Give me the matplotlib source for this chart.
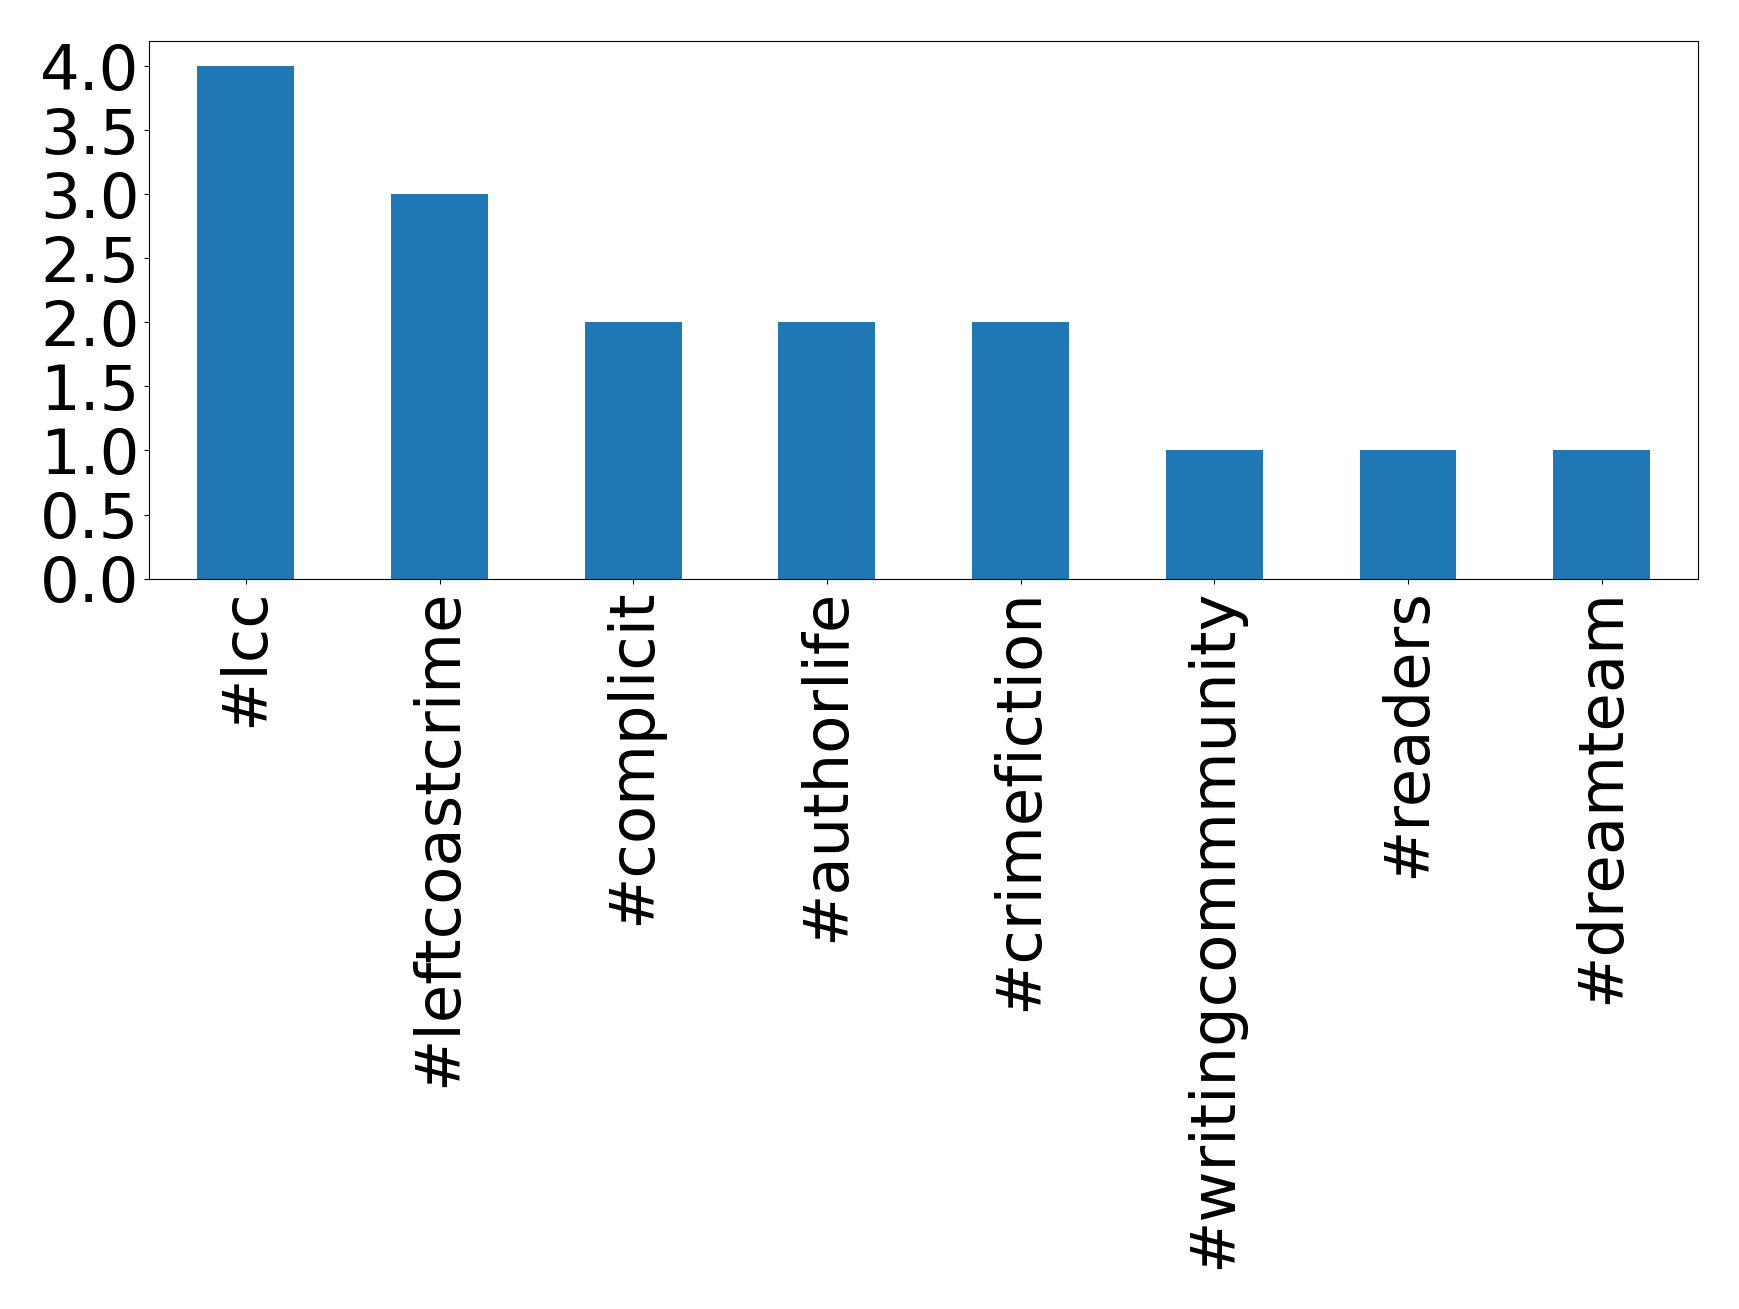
import matplotlib
matplotlib.use("Agg")
import matplotlib.pyplot as plt

# hashtag counts
tags = ["#lcc", "#leftcoastcrime", "#complicit", "#authorlife",
        "#crimefiction", "#writingcommmunity", "#readers", "#dreamteam"]
counts = [4, 3, 2, 2, 2, 1, 1, 1]

fig = plt.figure(figsize=(17.39, 13.09), dpi=100)
ax = fig.add_axes([0.0857, 0.558, 0.891, 0.411])

x = list(range(len(tags)))
ax.bar(x, counts, width=0.5, color="#1f77b4")
ax.set_xlim(-0.5, len(tags) - 0.5)
ax.set_ylim(0, 4.2)
ax.set_yticks([0.0, 0.5, 1.0, 1.5, 2.0, 2.5, 3.0, 3.5, 4.0])
ax.set_xticks(x)
ax.set_xticklabels(tags, rotation=90)
ax.tick_params(axis="both", labelsize=45)

fig.savefig("out.png", dpi=100)
